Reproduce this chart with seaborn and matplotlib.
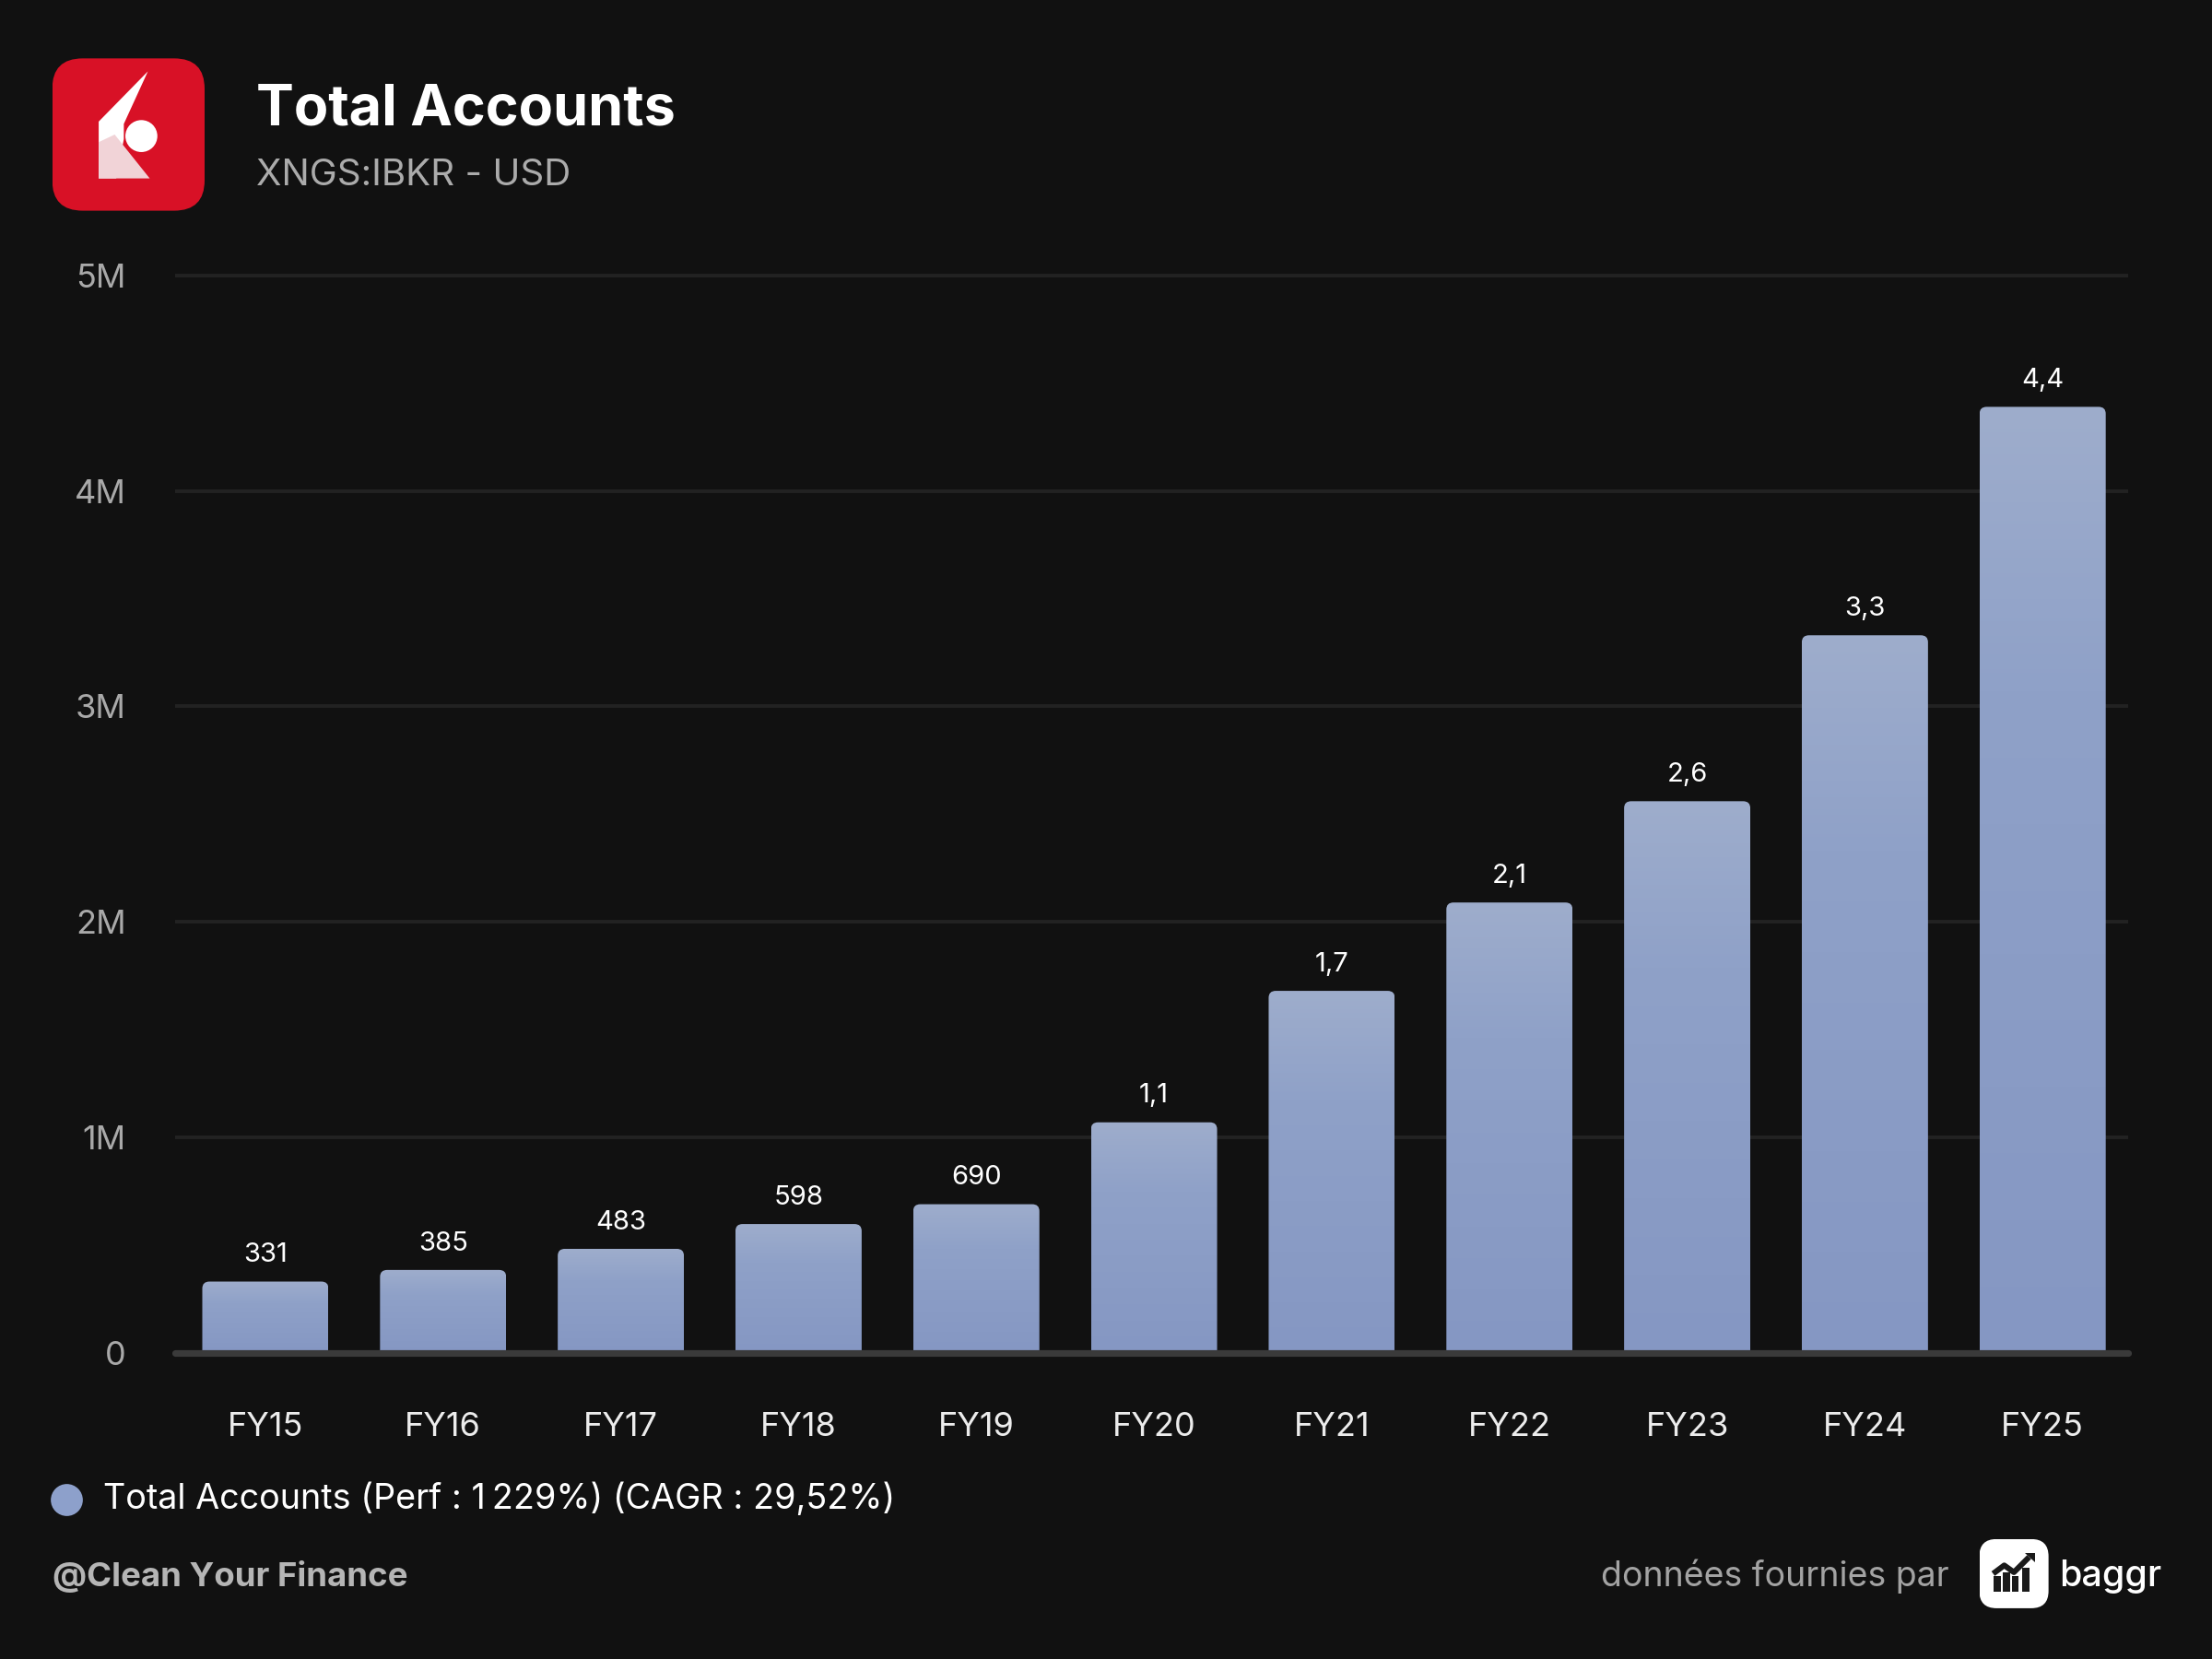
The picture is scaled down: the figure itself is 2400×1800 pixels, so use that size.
import numpy as np
import pandas as pd
import matplotlib
matplotlib.use("Agg")
import matplotlib.pyplot as plt
import seaborn as sns
from matplotlib.patches import FancyBboxPatch, Polygon, Circle, Rectangle
from matplotlib.colors import LinearSegmentedColormap

# ---------------- data ----------------
years = ["FY15", "FY16", "FY17", "FY18", "FY19", "FY20",
         "FY21", "FY22", "FY23", "FY24", "FY25"]
accounts = [331000, 385000, 483000, 598000, 690000, 1070000,
            1680000, 2090000, 2560000, 3330000, 4390000]
y_ticks = [0, 1000000, 2000000, 3000000, 4000000, 5000000]
y_tick_labels = ["0", "1M", "2M", "3M", "4M", "5M"]
title = "Total Accounts"
subtitle = "XNGS:IBKR - USD"
legend_label = "Total Accounts (Perf : 1\u202f229%) (CAGR : 29,52%)"


def fmt_value(v):
    if v >= 1_000_000:
        return f"{v / 1e6:.1f}".replace(".", ",")
    return f"{v / 1e3:.0f}"


# ---------------- style ----------------
sns.set_theme(style="dark")
plt.rcParams["font.family"] = ["Inter", "DejaVu Sans"]

BG = "#111111"
BAR = "#8da0cb"

fig = plt.figure(figsize=(12, 9), dpi=200, facecolor=BG)
ax = fig.add_axes([0.079, 0.1845, 0.883, 0.656])
ax.set_facecolor(BG)

df = pd.DataFrame({"year": years, "accounts": accounts})
sns.barplot(data=df, x="year", y="accounts", color=BAR, saturation=1,
            width=0.71, ax=ax, zorder=3)

# gradient + rounded tops
cmap = LinearSegmentedColormap.from_list(
    "bar", [(0.0, "#8597c3"), (0.7, "#8fa1c8"), (1.0, "#9eadcc")])
grad = np.linspace(0, 1, 256).reshape(-1, 1)
rx, ry = 0.04, 32000.0
for p in list(ax.patches):
    x0, w, h = p.get_x(), p.get_width(), p.get_height()
    p.set_visible(False)
    box = FancyBboxPatch((x0, -ry * 2), w, h + ry * 2,
                         boxstyle=f"round,pad=0,rounding_size={rx}",
                         mutation_aspect=ry / rx,
                         facecolor="none", edgecolor="none")
    ax.add_patch(box)
    im = ax.imshow(grad, extent=[x0, x0 + w, 0, h], origin="lower",
                   aspect="auto", cmap=cmap, zorder=3)
    im.set_clip_path(box)

for i, v in enumerate(accounts):
    ax.annotate(fmt_value(v), (i, v), xytext=(0, 5.5), textcoords="offset points",
                ha="center", va="bottom", color="white", fontsize=10.5)

ax.set_xlim(-0.51, len(years) - 0.52)
ax.set_ylim(0, 5.05e6)
ax.set_yticks(y_ticks)
ax.set_yticklabels(y_tick_labels)
ax.yaxis.grid(True, color="#222222", lw=1.4)
ax.xaxis.grid(False)
ax.set_axisbelow(True)
ax.axhline(0, color="#3a3a3a", lw=2.6, zorder=4, clip_on=False)
for s in ax.spines.values():
    s.set_visible(False)
ax.tick_params(axis="y", length=0, pad=19, labelsize=13, labelcolor="#a9a9a9")
ax.tick_params(axis="x", length=0, pad=23, labelsize=13, labelcolor="#ececec")
ax.set_xlabel("")
ax.set_ylabel("")

# ---------------- header ----------------
fig.text(0.116, 0.925, title, fontsize=22, fontweight="bold",
         color="white", va="baseline")
fig.text(0.116, 0.8885, subtitle, fontsize=14.5, color="#ababab", va="baseline")

# IBKR-like logo
lax = fig.add_axes([0.0236, 0.873, 0.0689, 0.0918])
lax.set_xlim(0, 1)
lax.set_ylim(0, 1)
lax.axis("off")
lax.add_patch(FancyBboxPatch((0, 0), 1, 1, boxstyle="round,pad=0,rounding_size=0.2",
                             facecolor="#d81126", edgecolor="none"))
lax.add_patch(Polygon([(0.628, 0.915), (0.305, 0.585), (0.305, 0.212),
                       (0.42, 0.212), (0.47, 0.47), (0.47, 0.57)],
                      closed=True, facecolor="white", edgecolor="none"))
lax.add_patch(Polygon([(0.305, 0.212), (0.64, 0.212), (0.41, 0.50), (0.305, 0.45)],
                      closed=True, facecolor="#f1d3d7", edgecolor="none"))
lax.add_patch(Circle((0.585, 0.49), 0.105, facecolor="white", edgecolor="none"))

# ---------------- legend ----------------
fig.lines.append(plt.Line2D([0.030], [0.0961], marker="o", markersize=11.5,
                            color=BAR, transform=fig.transFigure, linestyle="none"))
fig.text(0.0466, 0.0961, legend_label, fontsize=13.6, color="white", va="center")

# ---------------- footer ----------------
fig.text(0.0236, 0.044, "@Clean Your Finance", fontsize=13.2, fontweight="bold",
         color="#b5b5b5", va="baseline")
fig.text(0.881, 0.044, "données fournies par", fontsize=13.5, color="#a3a3a3",
         va="baseline", ha="right")
bax = fig.add_axes([0.8948, 0.0306, 0.0313, 0.0417])
bax.set_xlim(0, 1)
bax.set_ylim(0, 1)
bax.axis("off")
bax.add_patch(FancyBboxPatch((0, 0), 1, 1, boxstyle="round,pad=0,rounding_size=0.25",
                             facecolor="white", edgecolor="none"))
for bx, bt in [(0.21, 0.46), (0.34, 0.52), (0.47, 0.46), (0.62, 0.58)]:
    bax.add_patch(Rectangle((bx, 0.24), 0.1, bt - 0.24, facecolor="#1a1a1a",
                            edgecolor="none"))
bax.plot([0.2, 0.36, 0.5, 0.72], [0.5, 0.62, 0.52, 0.74], color="#1a1a1a",
         lw=2.2, solid_capstyle="butt")
bax.add_patch(Polygon([(0.66, 0.8), (0.8, 0.8), (0.8, 0.66)], closed=True,
                      facecolor="#1a1a1a", edgecolor="none"))
fig.text(0.931, 0.044, "baggr", fontsize=14.2, fontweight="medium",
         color="white", va="baseline")

fig.savefig("out.png", dpi=200, facecolor=BG)
